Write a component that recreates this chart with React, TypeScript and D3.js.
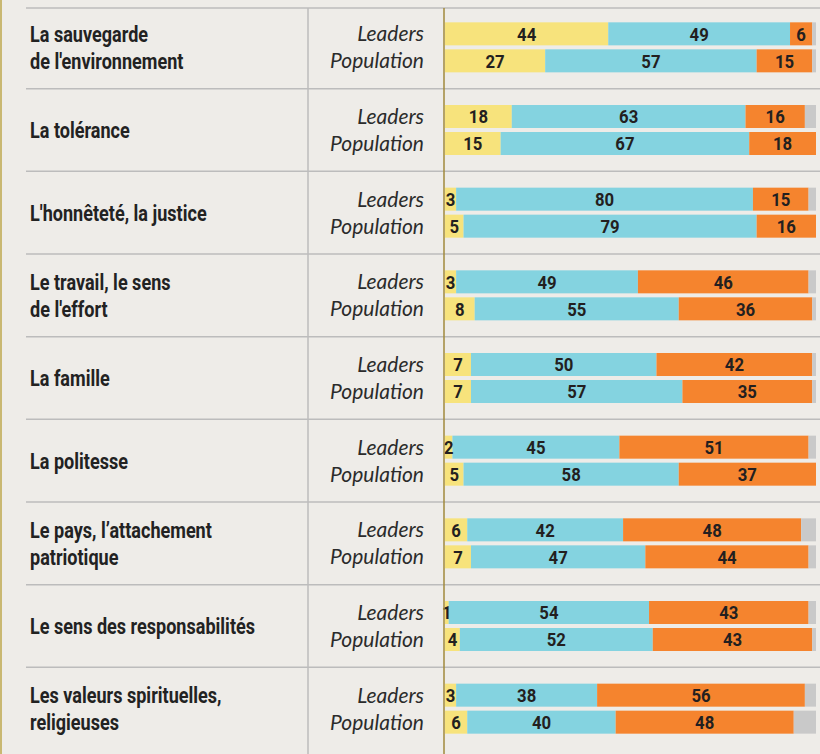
import React from 'react';
import * as d3 from 'd3';

const categories: string[][] = [
  ['La sauvegarde', "de l'environnement"],
  ['La tolérance'],
  ["L'honnêteté, la justice"],
  ['Le travail, le sens', "de l'effort"],
  ['La famille'],
  ['La politesse'],
  ['Le pays, l’attachement', 'patriotique'],
  ['Le sens des responsabilités'],
  ['Les valeurs spirituelles,', 'religieuses'],
];

const seriesNames = ['Leaders', 'Population'];

// [jaune, bleu, orange] en %, le reste en gris
const leaders: number[][] = [
  [44, 49, 6],
  [18, 63, 16],
  [3, 80, 15],
  [3, 49, 46],
  [7, 50, 42],
  [2, 45, 51],
  [6, 42, 48],
  [1, 54, 43],
  [3, 38, 56],
];

const population: number[][] = [
  [27, 57, 15],
  [15, 67, 18],
  [5, 79, 16],
  [8, 55, 36],
  [7, 57, 35],
  [5, 58, 37],
  [7, 47, 44],
  [4, 52, 43],
  [6, 40, 48],
];

const colors = ['#f7e37c', '#84d3e0', '#f5842e', '#c9c9c9'];

const W = 820;
const H = 754;

export default function App() {
  const y = d3.scaleBand<number>()
    .domain(d3.range(categories.length))
    .range([6, 750]);
  const x = d3.scaleLinear().domain([0, 100]).range([445, 816]);
  const barH = 23;

  const condensed = (tx: number, ty: number, k: number) =>
    `translate(${tx},${ty}) scale(${k},1)`;

  return (
    <svg width={W} height={H} style={{ position: 'absolute', left: 0, top: 0, display: 'block' }}>
      <rect width={W} height={H} fill="#eeece8" />
      <rect x={0} y={0} width={2} height={H} fill="#c9b872" />
      {categories.map((lines, i) => {
        const top = y(i) ?? 0;
        const c = top + y.bandwidth() / 2;
        const rows = [leaders[i], population[i]];
        const sepY = Math.max(top, 8);
        return (
          <g key={i}>
            <line x1={26} x2={W} y1={sepY} y2={sepY} stroke="#bcbcbc" strokeWidth={1.5} />
            {lines.map((t, j) => (
              <text
                key={j}
                transform={condensed(30, c + 8 + (j - (lines.length - 1) / 2) * 27, 0.84)}
                fontFamily="Roboto, sans-serif"
                fontWeight={700}
                fontSize={21.5}
                fill="#222"
              >
                {t}
              </text>
            ))}
            {rows.map((vals, r) => {
              const by = r === 0 ? c - barH - 2 : c + 2;
              const segs = [...vals, 100 - d3.sum(vals)];
              const starts = d3.cumsum([0, ...segs]);
              return (
                <g key={r}>
                  <text
                    x={424}
                    y={by + barH / 2 + 7.5}
                    textAnchor="end"
                    fontFamily="Lato, sans-serif"
                    fontStyle="italic"
                    fontWeight={400}
                    fontSize={21}
                    fill="#2b2b2b"
                  >
                    {seriesNames[r]}
                  </text>
                  {segs.map((v, k) => v > 0 && (
                    <rect
                      key={k}
                      x={x(starts[k])}
                      y={by}
                      width={x(starts[k] + v) - x(starts[k])}
                      height={barH}
                      fill={colors[k]}
                    />
                  ))}
                  {vals.map((v, k) => (
                    <text
                      key={k}
                      transform={condensed((x(starts[k]) + x(starts[k] + v)) / 2, by + barH / 2 + 6.8, 0.88)}
                      textAnchor="middle"
                      fontFamily="Roboto, sans-serif"
                      fontWeight={700}
                      fontSize={19}
                      fill="#231f20"
                    >
                      {v}
                    </text>
                  ))}
                </g>
              );
            })}
          </g>
        );
      })}
      <line x1={308} x2={308} y1={8} y2={H} stroke="#bcbcbc" strokeWidth={1.5} />
      <line x1={444} x2={444} y1={8} y2={H} stroke="#a08a3c" strokeWidth={1.5} />
    </svg>
  );
}
